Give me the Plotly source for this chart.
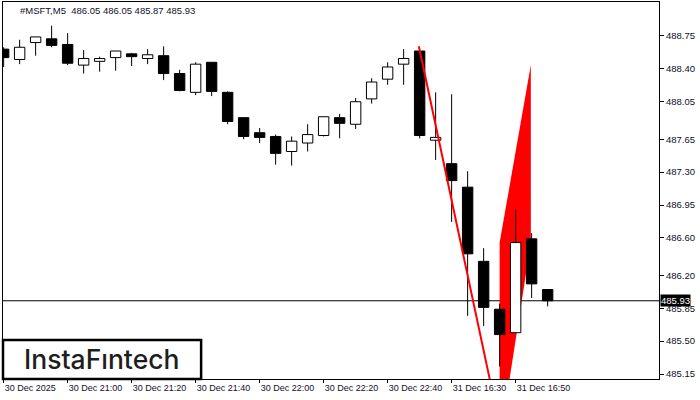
import plotly.graph_objects as go

# ---- data ----
bar_index = list(range(35))
opens  = [488.61, 488.50, 488.68, 488.72, 488.66, 488.44, 488.48, 488.52, 488.56, 488.51,
          488.54, 488.35, 488.15, 488.47, 488.15, 487.88, 487.72, 487.68, 487.52, 487.61,
          487.69, 487.88, 487.81, 488.08, 488.29, 488.45, 488.59, 487.64, 487.39, 487.14,
          486.35, 485.84, 485.59, 486.59, 486.05]
highs  = [488.63, 488.71, 488.74, 488.86, 488.78, 488.60, 488.53, 488.59, 488.57, 488.61,
          488.64, 488.39, 488.47, 488.47, 488.16, 487.88, 487.77, 487.70, 487.68, 487.81,
          487.89, 487.92, 488.09, 488.30, 488.47, 488.61, 488.60, 488.15, 488.13, 487.31,
          486.49, 485.90, 486.90, 486.65, 486.05]
lows   = [488.42, 488.45, 488.54, 488.63, 488.44, 488.35, 488.37, 488.38, 488.43, 488.45,
          488.28, 488.16, 488.12, 488.11, 487.81, 487.65, 487.61, 487.38, 487.37, 487.52,
          487.68, 487.66, 487.76, 488.03, 488.23, 488.23, 487.66, 487.43, 486.77, 485.77,
          485.66, 485.23, 485.59, 485.96, 485.87]
closes = [488.52, 488.63, 488.74, 488.65, 488.46, 488.51, 488.51, 488.59, 488.53, 488.55,
          488.35, 488.17, 488.45, 488.16, 487.84, 487.68, 487.67, 487.50, 487.63, 487.70,
          487.89, 487.82, 488.05, 488.26, 488.42, 488.51, 487.69, 487.67, 487.21, 486.43,
          485.86, 485.57, 486.55, 486.11, 485.93]

x_tick_pos = [0, 4, 8, 12, 16, 20, 24, 28, 32]
x_tick_labels = ["30 Dec 2025", "30 Dec 21:00", "30 Dec 21:20", "30 Dec 21:40", "30 Dec 22:00",
                 "30 Dec 22:20", "30 Dec 22:40", "31 Dec 16:30", "31 Dec 16:50"]
y_tick_vals = [488.75, 488.40, 488.05, 487.65, 487.30, 486.95, 486.60, 486.20, 485.85, 485.50, 485.15]

current_price = 485.93
title_text = "#MSFT,M5  486.05 486.05 485.87 485.93"

# pattern (flagpole line + flag polygon)
pole_x = [25.95, 31.0]
pole_y = [488.64, 484.60]
flag_x = [31.0, 31.0, 32.95, 32.95]
flag_y = [484.42, 486.55, 488.44, 486.55]

# ---- build ----
body_base = [min(o, c) for o, c in zip(opens, closes)]
body_h = [abs(c - o) for o, c in zip(opens, closes)]
body_col = ["white" if c >= o else "black" for o, c in zip(opens, closes)]

wx, wy = [], []
for i, o, h, l, c in zip(bar_index, opens, highs, lows, closes):
    top, bot = max(o, c), min(o, c)
    if h > top:
        wx += [i, i, None]; wy += [top, h, None]
    if l < bot:
        wx += [i, i, None]; wy += [bot, l, None]

fig = go.Figure()
fig.add_trace(go.Bar(x=bar_index, y=body_h, base=body_base, width=0.65,
                     marker=dict(color=body_col, line=dict(color="black", width=1)),
                     hoverinfo="skip"))
fig.add_trace(go.Scatter(x=wx, y=wy, mode="lines", line=dict(color="black", width=1),
                         hoverinfo="skip"))
fig.add_trace(go.Scatter(x=pole_x, y=pole_y, mode="lines", line=dict(color="#ff0000", width=2),
                         hoverinfo="skip"))

# current price line (below everything)
fig.add_shape(type="line", xref="paper", x0=0, x1=1, yref="y", y0=current_price, y1=current_price,
              line=dict(color="black", width=1), layer="below")
# flag polygon
path = "M " + " L ".join(f"{x},{y}" for x, y in zip(flag_x, flag_y)) + " Z"
fig.add_shape(type="path", path=path, xref="x", yref="y", fillcolor="#ff0000",
              line=dict(width=0), layer="below")

# logo box
fig.add_shape(type="rect", xref="paper", yref="paper", x0=0.0, x1=0.302, y0=0.0, y1=0.1034,
              fillcolor="white", line=dict(color="black", width=2.5), layer="above")
fig.add_annotation(xref="paper", yref="paper", x=0.150, y=0.052, text="InstaFıntech",
                   showarrow=False, xanchor="center", yanchor="middle",
                   font=dict(family="Inter", size=26.5, color="#1e1e1e", weight=500))

# title
fig.add_annotation(xref="paper", yref="paper", x=0.0225, y=0.977, text=title_text,
                   showarrow=False, xanchor="left", yanchor="middle",
                   font=dict(family="Liberation Sans", size=9.5, color="#101028"))

# price label
fig.add_annotation(xref="paper", yref="y", x=1, y=current_price, text=f"{current_price:.2f}",
                   showarrow=False, xanchor="left", yanchor="middle", xshift=1,
                   bgcolor="black", borderpad=0,
                   font=dict(family="Liberation Sans", size=9.5, color="white"))

fig.update_layout(
    template="none",
    width=700, height=400,
    margin=dict(l=3, r=41, t=2, b=21),
    paper_bgcolor="white", plot_bgcolor="white",
    showlegend=False,
    xaxis=dict(range=[-0.04, 40.96], tickvals=x_tick_pos, ticktext=x_tick_labels,
               ticks="outside", ticklen=3, tickcolor="black", tickwidth=1,
               showline=True, linecolor="black", linewidth=1, mirror=True,
               showgrid=False, zeroline=False, automargin=False,
               ticklabelposition="outside right",
               tickfont=dict(family="Liberation Sans", size=9, color="#101028")),
    yaxis=dict(range=[485.097, 489.112], side="right", tickvals=y_tick_vals,
               ticktext=[f"{v:.2f}" for v in y_tick_vals],
               ticks="outside", ticklen=4, tickcolor="black", tickwidth=1,
               showline=True, linecolor="black", linewidth=1, mirror=True,
               showgrid=False, zeroline=False, automargin=False,
               tickfont=dict(family="Liberation Sans", size=9.5, color="#101028")),
)

fig.write_html("out.html", config={"displayModeBar": False},
               post_script="document.body.style.margin='0';document.body.style.padding='0';")
